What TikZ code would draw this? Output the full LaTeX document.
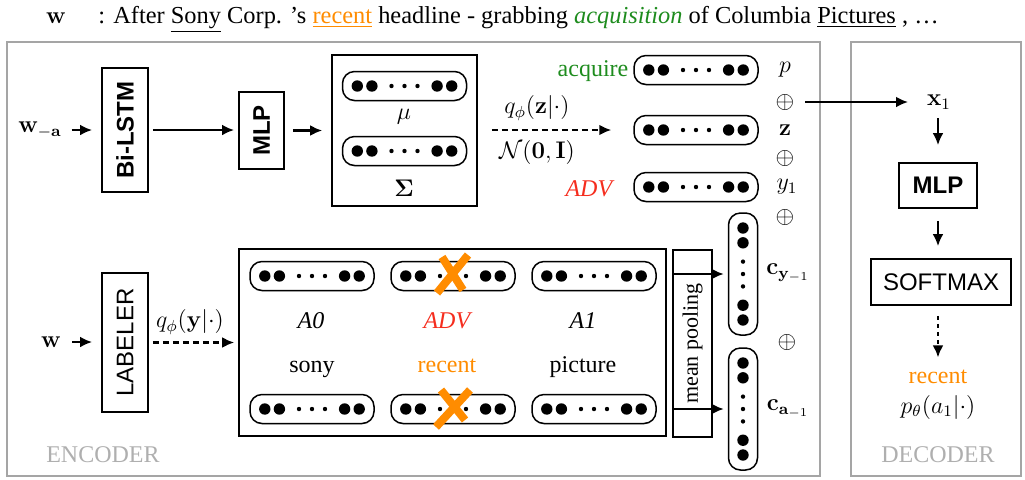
\documentclass[tikz,border=0pt]{standalone}
\usepackage[no-math]{fontspec}
\setmainfont{Liberation Serif}
\setsansfont{Liberation Sans}
\usetikzlibrary{arrows.meta,shadows}
\definecolor{myorange}{RGB}{255,140,0}
\definecolor{mygreen}{RGB}{30,140,30}
\definecolor{myred}{RGB}{245,45,30}
\definecolor{framegray}{RGB}{165,165,165}
\definecolor{labelgray}{RGB}{175,175,175}
\tikzset{
  every node/.style={font=\fontsize{12}{14}\selectfont},
  arr/.style={-{Latex[length=6pt,width=5.4pt]}, line width=1.05pt},
  darr/.style={arr, dash pattern=on 3pt off 2pt},
  sbox/.style={draw, line width=0.9pt, inner sep=0pt, font=\sffamily\fontsize{12}{14}\selectfont},
  plainbox/.style={draw, line width=0.8pt, inner sep=0pt},
  frame/.style={draw=framegray, line width=0.8pt},
  pillbox/.style={draw, line width=0.75pt, rounded corners=6pt, fill=white, inner sep=0pt,
    drop shadow={opacity=0.12, shadow xshift=0pt, shadow yshift=-0.6pt}},
  xmark/.style={myorange, line width=4pt},
  pics/hpill/.style={code={
    \node[pillbox, minimum width=62pt, minimum height=14.5pt] (-box) {};
    \foreach \dd in {-23.6,-16.3,16.3,23.6}{\fill (\dd pt,0pt) circle (2.85pt);}
    \foreach \dd in {-6.5,0,6.5}{\fill (\dd pt,0pt) circle (1.1pt);}
  }},
  pics/vpill/.style={code={
    \node[pillbox, minimum width=14.5pt, minimum height=61pt] (-box) {};
    \foreach \dd in {-23,-15.6,15.6,23}{\fill (0pt,\dd pt) circle (2.85pt);}
    \foreach \dd in {-6.2,0,6.2}{\fill (0pt,\dd pt) circle (1.1pt);}
  }},
}
\begin{document}
\begin{tikzpicture}[x=0.5pt,y=-0.5pt]
\useasboundingbox (0,0) rectangle (1025,479);
% frames
\draw[frame] (7,42) rectangle (820,476);
\draw[frame] (851,42) rectangle (1021,476);
% sentence
\node[anchor=base] (wtop) at (56,23) {$\mathbf{w}$};
\node[anchor=base west, inner sep=0pt] (sent) at (98,23) {\fontsize{12.2}{14}\selectfont : After \underline{Sony} Corp. 's \textcolor{myorange}{\underline{recent}} headline - grabbing \textcolor{mygreen}{\textit{acquisition}} of Columbia \underline{Pictures} , \dots};
% encoder top
\node (wa) at (40,130) {$\mathbf{w}_{-\mathbf{a}}$};
\node[sbox, minimum width=23pt, minimum height=62pt] (bilstm) at (125,130) {\rotatebox{90}{\bfseries Bi-LSTM}};
\node[sbox, minimum width=22.5pt, minimum height=38.5pt] (mlp1) at (261.5,130.5) {\rotatebox{90}{\bfseries MLP}};
\node[plainbox, minimum width=72.5pt, minimum height=75.5pt] (musig) at (404.5,130.5) {};
\pic (mup) at (404.5,86) {hpill};
\pic (sigp) at (404.5,151) {hpill};
\node (mu) at (404,117) {$\mu$};
\node (sig) at (404,188) {$\mathbf{\Sigma}$};
\draw[arr, shorten <=1.5pt, shorten >=4.5pt] (wa.east) -- (wa.east -| bilstm.west);
\draw[arr, shorten <=2pt, shorten >=2pt] (bilstm.east) -- (bilstm.east -| mlp1.west);
\draw[arr, shorten <=4pt, shorten >=4.5pt] (mlp1.east) -- (mlp1.east -| musig.west);
\node (qz) at (537,108) {$q_\phi(\mathbf{z}|\cdot)$};
\node (nn) at (537,152) {$\mathcal{N}(\mathbf{0},\mathbf{I})$};
\pic (ap) at (696,70) {hpill};
\pic (zp) at (696,130) {hpill};
\pic (yp) at (696,187) {hpill};
\draw[darr, shorten <=7pt, shorten >=11pt] (musig.east |- zp-box.west) -- (zp-box.west);
\node[text=mygreen, anchor=base] (acq) at (593,76) {acquire};
\node[text=myred, anchor=base] (advr) at (590,196) {\textit{ADV}};
\node (p) at (785,70) {$p$};
\node (op1) at (785,102) {$\oplus$};
\node (z) at (785,130) {$\mathbf{z}$};
\node (op2) at (785,158) {$\oplus$};
\node (y1) at (787,187) {$y_1$};
\node (op3) at (785,217) {$\oplus$};
\node (cy) at (788,273) {$\mathbf{c}_{\mathbf{y}_{-1}}$};
\node (op4) at (787,342) {$\oplus$};
\node (ca) at (788,409) {$\mathbf{c}_{\mathbf{a}_{-1}}$};
% decoder
\node (x1) at (939,102) {$\mathbf{x}_1$};
\node[sbox, minimum width=39pt, minimum height=22.5pt] (mlp2) at (938,185.5) {\bfseries MLP};
\node[sbox, minimum width=70pt, minimum height=23pt] (soft) at (941,282) {SOFTMAX};
\node[text=myorange, anchor=base] (rec2) at (938,383) {recent};
\node (pth) at (938,407) {$p_\theta(a_1|\cdot)$};
\node[text=labelgray, anchor=base] (dec) at (938,462) {DECODER};
\draw[arr, shorten <=2pt, shorten >=6pt] (op1.east) -- (op1.east -| x1.west);
\draw[arr, shorten <=1pt, shorten >=8.5pt] (mlp2.north |- x1.south) -- (mlp2.north);
\draw[arr, shorten <=6pt, shorten >=6pt] (mlp2.south) -- (mlp2.south |- soft.north);
\draw[arr, dash pattern=on 2pt off 2pt, shorten <=5pt, shorten >=2.5pt] (mlp2.south |- soft.south) -- (mlp2.south |- rec2.north);
% encoder bottom
\node (w2) at (51,342) {$\mathbf{w}$};
\node[sbox, minimum width=23pt, minimum height=69.5pt] (lab) at (125,342.5) {\rotatebox{90}{LABELER}};
\node (qy) at (190,322) {$q_\phi(\mathbf{y}|\cdot)$};
\node[plainbox, minimum width=213.5pt, minimum height=93.5pt] (big) at (452.5,342.5) {};
\draw[arr, shorten <=2pt, shorten >=4.5pt] (w2.east) -- (w2.east -| lab.west);
\draw[darr, shorten <=2pt, shorten >=2pt] (lab.east) -- (lab.east -| big.west);
\pic (t1) at (312,276) {hpill};
\pic (t2) at (453,276) {hpill};
\pic (t3) at (594,276) {hpill};
\pic (b1) at (312,409) {hpill};
\pic (b2) at (453,409) {hpill};
\pic (b3) at (594,409) {hpill};
\node[anchor=base] (a0) at (311,328) {\textit{A0}};
\node[text=myred, anchor=base] (adv2) at (448,328) {\textit{ADV}};
\node[anchor=base] (a1) at (583,328) {\textit{A1}};
\node[anchor=base] (sony) at (312,372) {sony};
\node[text=myorange, anchor=base] (rec1) at (447,372) {recent};
\node[anchor=base] (pic) at (583,372) {picture};
\draw[xmark] ([shift={(-16,17)}]t2-box.center) -- ([shift={(15,-21)}]t2-box.center);
\draw[xmark] ([shift={(-11,-19)}]t2-box.center) -- ([shift={(10,14)}]t2-box.center);
\draw[xmark] ([shift={(-17,18)}]b2-box.center) -- ([shift={(17,-19)}]b2-box.center);
\draw[xmark] ([shift={(-12,-19)}]b2-box.center) -- ([shift={(12,11)}]b2-box.center);
\node[draw, line width=0.6pt, minimum width=19.5pt, minimum height=93.5pt, inner sep=0pt] (mp) at (692.5,343.5) {\rotatebox{90}{\fontsize{11}{13}\selectfont mean pooling}};
\pic (vy) at (743,274) {vpill};
\pic (va) at (743,409) {vpill};
\draw[arr, shorten <=3pt, shorten >=2pt] (big.east |- vy-box.west) -- (vy-box.west);
\draw[arr, shorten <=3pt, shorten >=2pt] (big.east |- va-box.west) -- (va-box.west);
\node[text=labelgray, anchor=base] (enc) at (103,462) {ENCODER};
\end{tikzpicture}
\end{document}
